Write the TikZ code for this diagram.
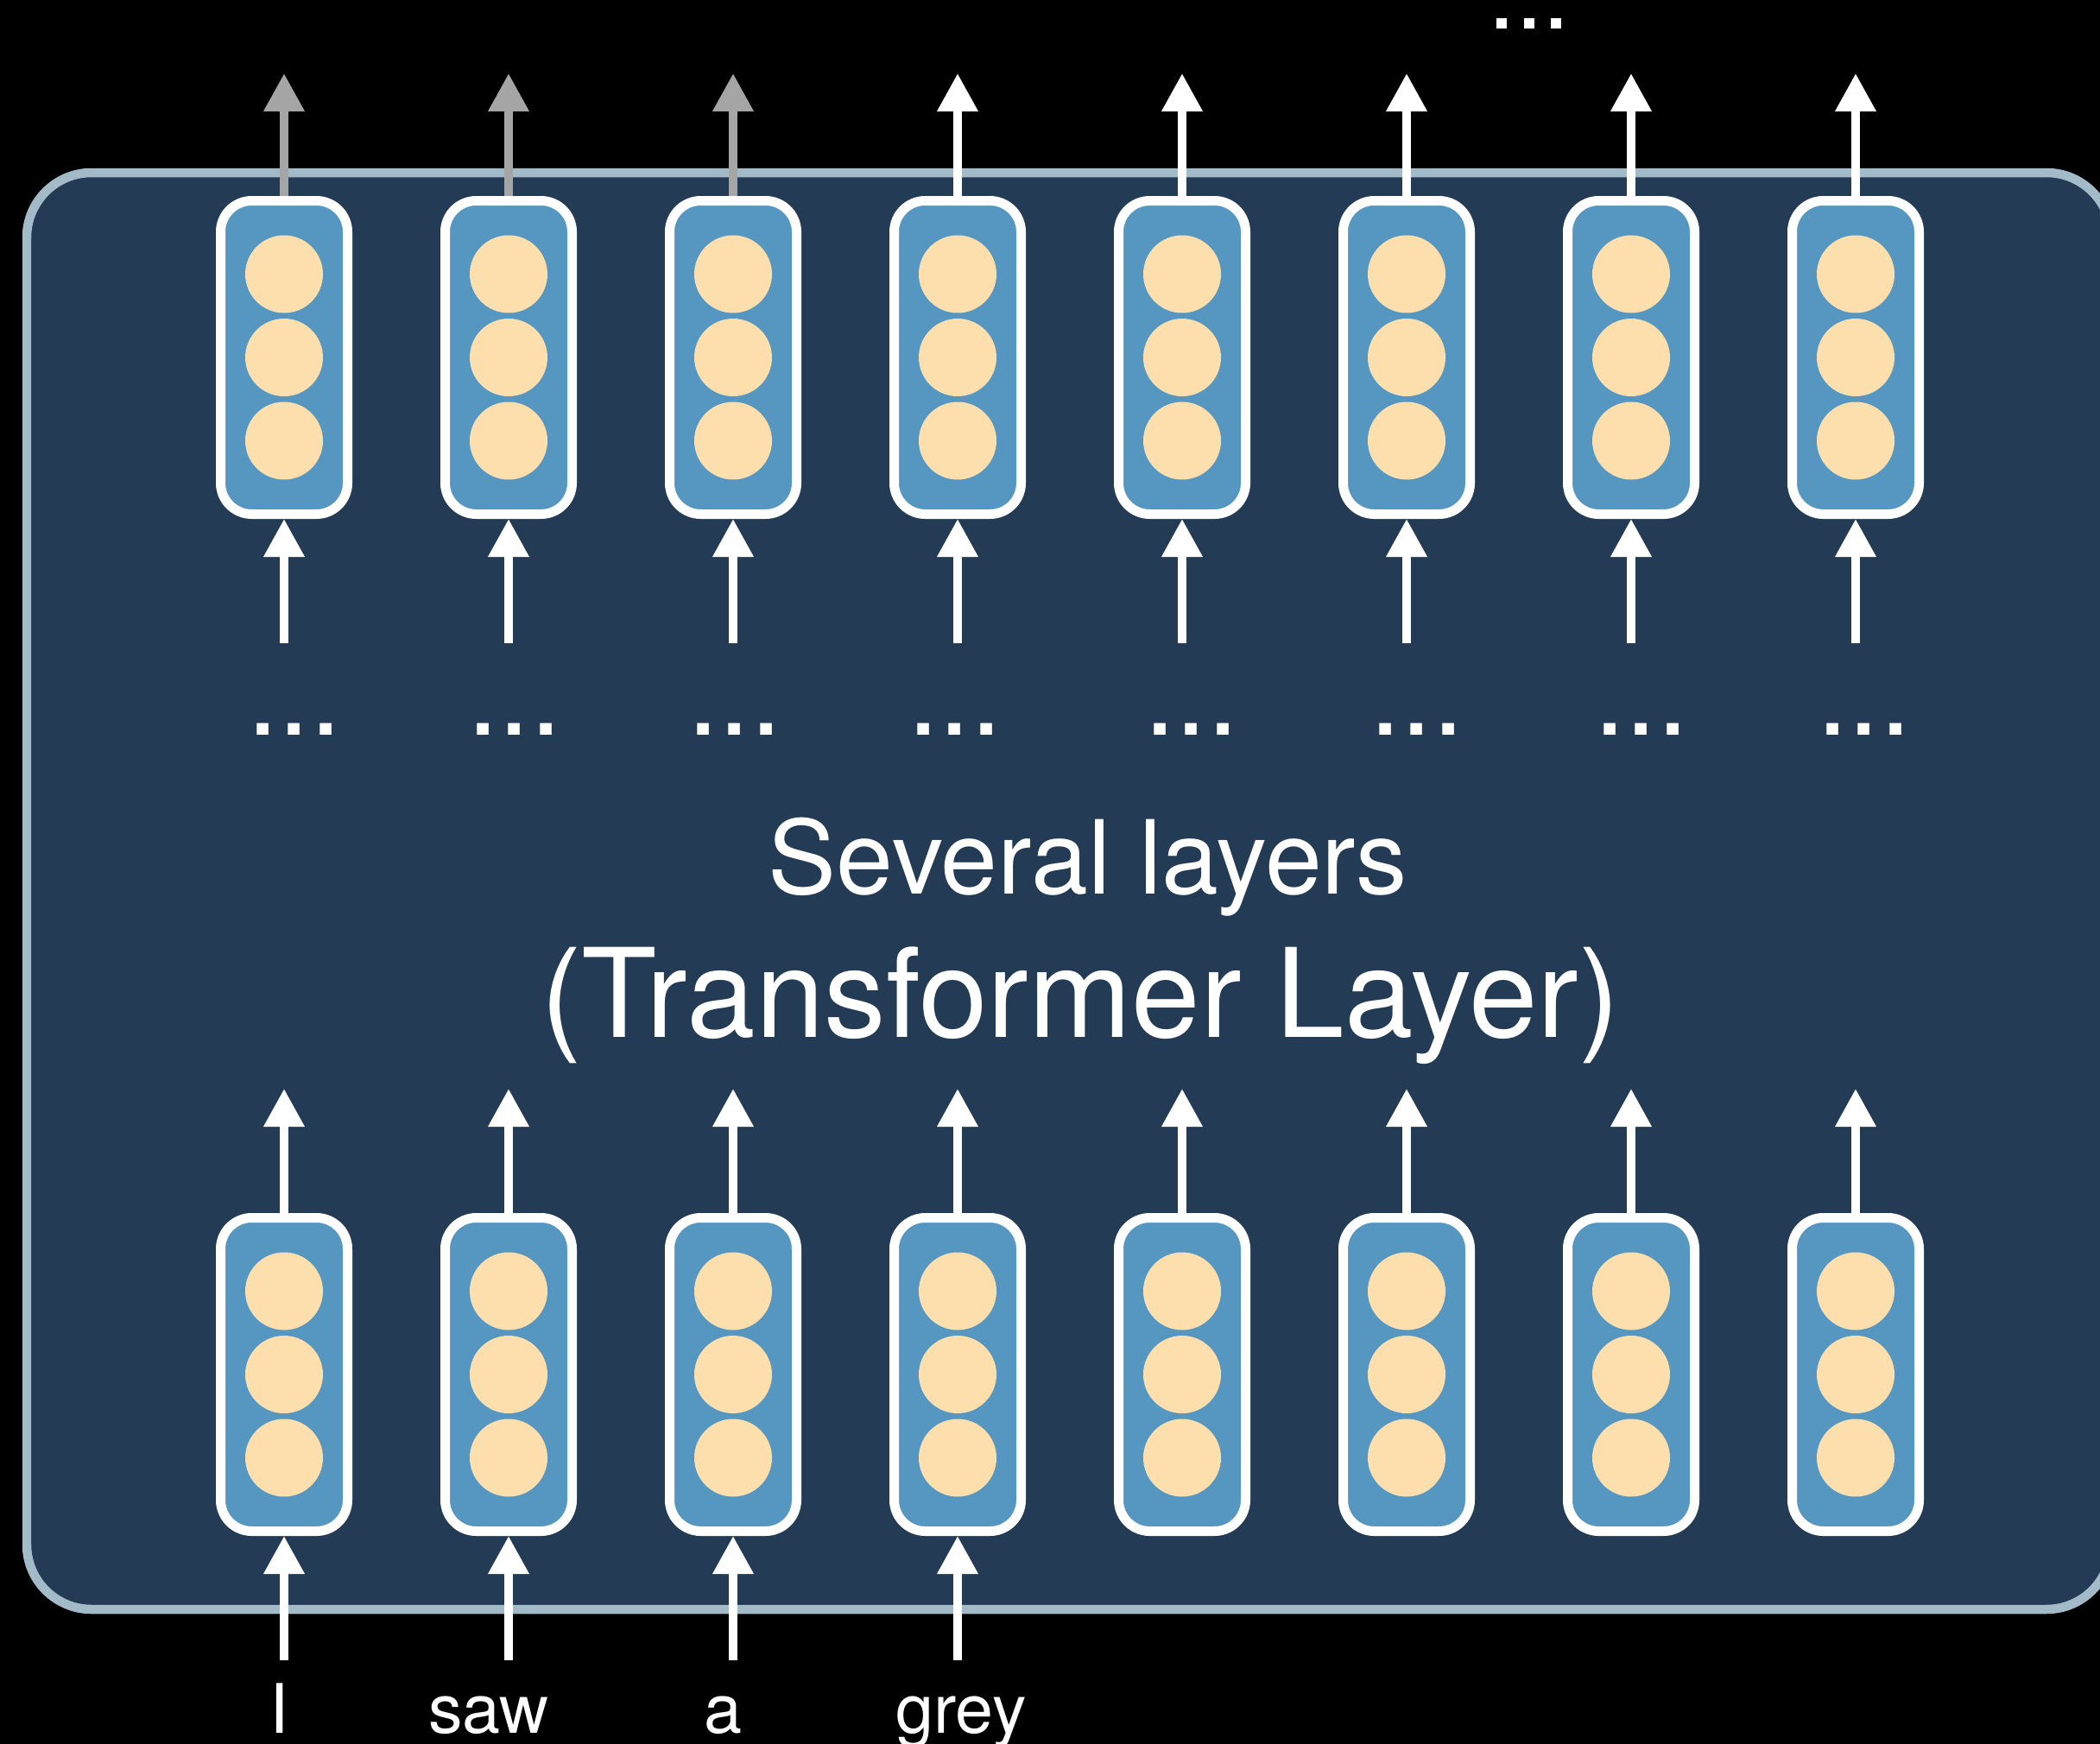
\documentclass[tikz,border=0pt]{standalone}
\usepackage{fontspec}
\setmainfont{TeX Gyre Heros}
\usepackage{tikz}
\usetikzlibrary{arrows.meta, calc}

\definecolor{panel}{HTML}{233B55}
\definecolor{rim}{HTML}{A3BBC9}
\definecolor{cellblue}{HTML}{5597C1}
\definecolor{peach}{HTML}{FDDFAE}
\definecolor{mute}{HTML}{A5A5A5}

\tikzset{
    vec/.style={draw=white, line width=0.11cm, fill=cellblue, rounded corners=0.36cm,
        minimum width=1.47cm, minimum height=3.63cm, inner sep=0pt},
    unit/.style={circle, fill=peach, minimum size=0.9cm, inner sep=0pt},
    flow/.style={white, line width=0.1cm, -{Triangle[length=0.44cm, width=0.45cm]}},
    word/.style={white, anchor=base, inner sep=0pt, font=\fontsize{22.5}{27}\selectfont},
    more/.style={white, anchor=base, inner sep=0pt}
}

\begin{document}
\begin{tikzpicture}
    \useasboundingbox (0,0) rectangle (24.32,-20.20);
    \fill[black] (0,0) rectangle (24.32,-20.20);

    % the big layer block
    \draw[rim, fill=panel, line width=0.105cm, rounded corners=0.75cm] (0.31,-2.00) rectangle (24.45,-18.64);

    \foreach \i in {1,...,8} {
        \pgfmathsetmacro{\cx}{3.29+2.6*(\i-1)}
        \node[vec] (top\i) at (\cx,-4.14) {};
        \node[vec] (bot\i) at (\cx,-15.92) {};
        \foreach \k/\dy in {a/0.965,b/0,c/-0.965} {
            \node[unit] (top\i\k) at ($(top\i)+(0,\dy)$) {};
            \node[unit] (bot\i\k) at ($(bot\i)+(0,\dy)$) {};
        }
        \coordinate (out\i) at (\cx,-0.85);
        \coordinate (mid\i) at (\cx,-7.45);
        \coordinate (up\i) at (\cx,-12.61);
        \draw[flow] (mid\i) -- (top\i.south);
        \draw[flow] (bot\i.north) -- (up\i);
    }
    % first three outputs are greyed out
    \foreach \i in {1,2,3} \draw[flow, mute] (top\i.north) -- (out\i);
    \foreach \i in {4,...,8} \draw[flow] (top\i.north) -- (out\i);

    \foreach \x [count=\i] in {3.41,5.96,8.51,11.06,13.80,16.41,19.01,21.59}
        \node[more, font=\fontsize{37}{44}\selectfont] (dots\i) at (\x,-8.51) {...};
    \node[more, font=\fontsize{32.7}{39}\selectfont] (dotstop) at (17.71,-0.33) {...};

    \node[white, anchor=base, font=\fontsize{33.7}{40}\selectfont] (several) at (12.60,-10.35) {Several layers};
    \node[white, anchor=base, font=\fontsize{40.7}{48}\selectfont] (layer) at (12.51,-12.01) {(Transformer Layer)};

    % input words
    \foreach \w/\x [count=\i] in {I/3.23,saw/5.66,a/8.37,grey/11.13} {
        \node[word] (lbl\i) at (\x,-20.07) {\w};
        \coordinate (in\i) at ($(bot\i.south)+(0,-1.44)$);
        \draw[flow] (in\i) -- (bot\i.south);
    }
\end{tikzpicture}
\end{document}
